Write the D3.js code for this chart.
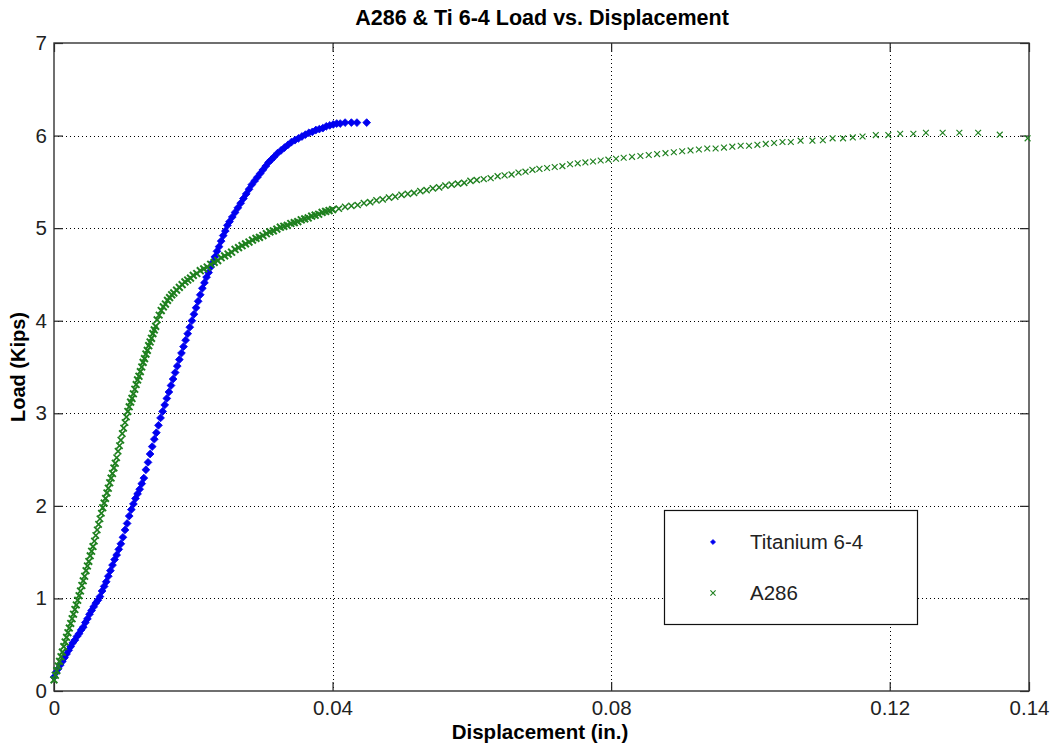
<!DOCTYPE html>
<html>
<head>
<meta charset="utf-8">
<script src="https://cdn.jsdelivr.net/npm/d3@7"></script>
<style>
  html, body { margin: 0; padding: 0; background: #fff; }
  svg { display: block; font-family: Arial, "Liberation Sans", sans-serif; }
</style>
</head>
<body>
<script>
// ---------------- DATA ----------------
const chartTitle = "A286 & Ti 6-4 Load vs. Displacement";
const xAxisTitle = "Displacement (in.)";
const yAxisTitle = "Load (Kips)";
const seriesNames = ["Titanium 6-4", "A286"];

const xTickValues = [0, 0.04, 0.08, 0.12, 0.14];
const xTickLabels = ["0", "0.04", "0.08", "0.12", "0.14"];
const yTickValues = [0, 1, 2, 3, 4, 5, 6, 7];
const yTickLabels = ["0", "1", "2", "3", "4", "5", "6", "7"];

// Titanium 6-4 : displacement (in.), load (kips)
const tiDisp = [
0.0000,0.0003,0.0006,0.0009,0.0012,0.0015,0.0018,0.0021,0.0024,0.0027,0.0030,0.0033,0.0036,0.0039,0.0042,0.0045,0.0048,0.0051,0.0054,0.0057,0.0060,0.0063,0.0066,
0.0069,0.0072,0.0075,0.0078,0.0081,0.0084,0.0087,0.0090,0.0093,0.0096,0.0099,0.0102,0.0105,0.0108,0.0111,0.0114,0.0117,0.0120,0.0123,0.0126,0.0129,0.0132,0.0135,0.0138,0.0141,0.0144,0.0147,0.0150,0.0153,
0.0156,0.0159,0.0162,0.0165,0.0168,0.0171,0.0174,0.0177,0.0180,0.0183,0.0186,0.0189,0.0192,0.0195,0.0198,0.0201,0.0204,0.0207,0.0210,0.0213,0.0216,0.0219,0.0222,0.0225,0.0228,0.0231,0.0234,0.0237,0.0240,0.0243,0.0246,0.0249,
0.0252,0.0256,0.0260,0.0264,0.0268,0.0272,0.0276,0.0280,0.0284,0.0288,0.0292,0.0296,0.0300,0.0304,0.0308,0.0312,0.0316,0.0321,0.0326,0.0331,0.0336,0.0341,0.0346,0.0351,0.0356,0.0361,0.0366,0.0371,0.0376,0.0381,0.0386,0.0391,0.0396,0.0401,0.0406,0.0411,0.0418,0.0427,0.0435,0.0449
];
const tiLoad = [
0.15,0.20,0.24,0.28,0.32,0.36,0.40,0.44,0.48,0.52,0.55,0.59,0.62,0.66,0.69,0.74,0.78,0.83,0.87,0.91,0.95,0.98,1.02,
1.08,1.13,1.18,1.24,1.30,1.36,1.42,1.47,1.53,1.59,1.66,1.74,1.81,1.89,1.96,2.02,2.08,2.13,2.18,2.24,2.30,2.39,2.47,2.56,2.64,2.72,2.79,2.87,2.95,
3.02,3.09,3.16,3.23,3.30,3.37,3.44,3.51,3.58,3.65,3.72,3.79,3.86,3.93,4.00,4.07,4.14,4.21,4.28,4.35,4.41,4.47,4.52,4.58,4.63,4.69,4.75,4.80,4.86,4.92,4.97,5.03,
5.07,5.12,5.17,5.22,5.27,5.32,5.37,5.42,5.47,5.51,5.55,5.59,5.63,5.67,5.71,5.74,5.77,5.81,5.84,5.87,5.90,5.93,5.95,5.97,5.99,6.01,6.03,6.04,6.06,6.07,6.08,6.10,6.11,6.12,6.13,6.13,6.14,6.14,6.14,6.14
];

// A286 : displacement (in.), load (kips)
const aDisp = [
0.0000,0.0002,0.0004,0.0006,0.0008,0.0010,0.0012,0.0014,0.0016,0.0018,0.0020,0.0022,0.0024,0.0026,0.0028,0.0030,0.0032,0.0034,0.0036,0.0038,0.0040,0.0042,0.0044,0.0046,0.0048,0.0050,0.0052,0.0054,0.0056,0.0058,0.0060,0.0062,0.0064,0.0066,0.0068,0.0070,0.0072,0.0074,0.0076,0.0078,0.0080,0.0082,0.0084,0.0086,0.0088,0.0090,0.0092,0.0094,0.0096,0.0098,0.0100,0.0102,0.0104,
0.0106,0.0108,0.0110,0.0112,0.0114,0.0116,0.0118,0.0120,0.0122,0.0124,0.0126,0.0128,0.0130,0.0132,0.0134,0.0136,0.0138,0.0140,0.0142,0.0144,0.0146,
0.0148,0.0151,0.0154,0.0157,0.0160,0.0163,0.0166,0.0169,0.0172,0.0176,0.0180,0.0184,0.0188,0.0192,0.0196,0.0200,0.0205,0.0210,0.0215,0.0220,0.0225,0.0230,0.0235,0.0240,0.0245,0.0250,0.0255,0.0260,0.0265,0.0270,0.0275,0.0280,0.0285,0.0290,0.0295,0.0300,0.0305,0.0310,0.0315,0.0320,0.0325,0.0330,0.0335,0.0340,0.0345,0.0350,0.0355,0.0360,0.0365,0.0370,0.0375,0.0380,0.0385,0.0390,0.0395,0.0400,
0.0409,0.0418,0.0427,0.0436,0.0445,0.0454,0.0463,0.0472,0.0481,0.0490,0.0499,0.0508,0.0517,0.0526,0.0535,0.0544,0.0553,0.0562,0.0571,0.0580,0.0589,0.0598,0.0607,0.0617,0.0627,0.0637,0.0647,0.0657,0.0667,0.0677,0.0687,0.0697,0.0708,0.0719,0.0730,0.0741,0.0752,0.0763,0.0774,0.0785,0.0796,0.0807,0.0818,0.0830,0.0842,0.0854,0.0866,0.0878,0.0890,0.0902,0.0914,0.0926,0.0938,0.0950,0.0962,0.0974,0.0986,0.0998,0.1010,0.1022,0.1034,0.1046,0.1058,
0.1072,0.1089,0.1104,0.1118,0.1133,0.1147,0.1161,0.1180,0.1198,0.1215,0.1234,0.1252,0.1276,0.1300,0.1327,0.1358,0.1398
];
const aLoad = [
0.12,0.17,0.22,0.27,0.32,0.37,0.42,0.48,0.53,0.58,0.63,0.68,0.73,0.78,0.83,0.88,0.93,0.98,1.03,1.08,1.14,1.19,1.24,1.30,1.35,1.40,1.46,1.51,1.56,1.62,1.68,1.74,1.80,1.86,1.92,1.98,2.03,2.08,2.14,2.19,2.25,2.30,2.35,2.41,2.46,2.52,2.59,2.65,2.71,2.78,2.84,2.90,2.96,
3.02,3.07,3.12,3.16,3.21,3.26,3.31,3.36,3.40,3.45,3.50,3.55,3.59,3.64,3.68,3.73,3.77,3.81,3.86,3.90,3.94,
4.01,4.06,4.11,4.15,4.18,4.22,4.25,4.28,4.30,4.33,4.36,4.39,4.42,4.44,4.46,4.49,4.51,4.54,4.56,4.58,4.61,4.63,4.65,4.68,4.70,4.72,4.74,4.77,4.79,4.81,4.83,4.85,4.87,4.89,4.90,4.92,4.94,4.96,4.97,4.99,5.01,5.02,5.03,5.05,5.06,5.07,5.09,5.10,5.11,5.13,5.14,5.15,5.17,5.18,5.19,5.20,
5.21,5.23,5.24,5.25,5.27,5.28,5.30,5.31,5.33,5.34,5.36,5.37,5.38,5.40,5.41,5.43,5.44,5.46,5.47,5.48,5.49,5.51,5.52,5.53,5.54,5.56,5.57,5.58,5.60,5.61,5.63,5.64,5.65,5.66,5.67,5.69,5.70,5.71,5.72,5.73,5.74,5.75,5.76,5.77,5.78,5.79,5.80,5.81,5.82,5.83,5.84,5.85,5.86,5.86,5.87,5.88,5.89,5.89,5.90,5.91,5.92,5.93,5.93,
5.945,5.945,5.95,5.97,5.97,5.98,5.99,6.005,6.005,6.02,6.02,6.03,6.03,6.03,6.03,6.01,5.97
];

// ---------------- DRAWING ----------------
const W = 1052, H = 747;
const m = { left: 54, right: 1029, top: 43, bottom: 691 };
const tiColor = "#0000f0";
const aColor = "#1f801f";

const svg = d3.select("body").append("svg").attr("width", W).attr("height", H);

const x = d3.scaleLinear().domain([0, 0.14]).range([m.left, m.right]);
const y = d3.scaleLinear().domain([0, 7]).range([m.bottom, m.top]);

// grid (dotted)
const grid = svg.append("g").attr("stroke", "#000").attr("stroke-width", 1).attr("stroke-dasharray", "1,3");
grid.selectAll("line.gx").data(xTickValues.filter(v => v > 0 && v < 0.14)).join("line")
  .attr("x1", d => Math.round(x(d)) + 0.5).attr("x2", d => Math.round(x(d)) + 0.5)
  .attr("y1", m.top).attr("y2", m.bottom);
grid.selectAll("line.gy").data(yTickValues.filter(v => v > 0 && v < 7)).join("line")
  .attr("y1", d => Math.round(y(d)) + 0.5).attr("y2", d => Math.round(y(d)) + 0.5)
  .attr("x1", m.left).attr("x2", m.right);

// axes
const tickFont = 20.5;
const gx = svg.append("g").attr("transform", `translate(0,${m.bottom})`)
  .call(d3.axisBottom(x).tickValues(xTickValues).tickFormat((d, i) => xTickLabels[i]).tickSizeInner(-9).tickSizeOuter(0).tickPadding(9));
const gy = svg.append("g").attr("transform", `translate(${m.left},0)`)
  .call(d3.axisLeft(y).tickValues(yTickValues).tickFormat((d, i) => yTickLabels[i]).tickSizeInner(-9).tickSizeOuter(0).tickPadding(7));
const gt = svg.append("g").attr("transform", `translate(0,${m.top})`)
  .call(d3.axisTop(x).tickValues(xTickValues).tickFormat("").tickSizeInner(-9).tickSizeOuter(0));
const gr = svg.append("g").attr("transform", `translate(${m.right},0)`)
  .call(d3.axisRight(y).tickValues(yTickValues).tickFormat("").tickSizeInner(-9).tickSizeOuter(0));
[gx, gy, gt, gr].forEach(g => {
  g.select(".domain").remove();
  g.selectAll(".tick line").attr("stroke", "#222").attr("stroke-width", 1.2);
  g.selectAll("text").attr("font-size", tickFont).attr("fill", "#222")
    .attr("font-family", "Arial, 'Liberation Sans', sans-serif");
});

// box
svg.append("rect").attr("x", m.left).attr("y", m.top)
  .attr("width", m.right - m.left).attr("height", m.bottom - m.top)
  .attr("fill", "none").attr("stroke", "#333").attr("stroke-width", 1.4);

// series
const tiPts = tiDisp.map((d, i) => [d, tiLoad[i]]);
const aPts = aDisp.map((d, i) => [d, aLoad[i]]);

const diamond = r => `M0,${-r}L${r},0L0,${r}L${-r},0Z`;
const cross = r => `M${-r},${-r}L${r},${r}M${-r},${r}L${r},${-r}`;

// pixel gap to the nearest neighbour: closely packed markers overplot into a heavier band
function pixGap(pts, i) {
  const p = pts[i], q = pts[Math.min(i + 1, pts.length - 1)], r = pts[Math.max(i - 1, 0)];
  const dq = Math.hypot(x(q[0]) - x(p[0]), y(q[1]) - y(p[1])) || 99;
  const dr = Math.hypot(x(r[0]) - x(p[0]), y(r[1]) - y(p[1])) || 99;
  return Math.min(dq, dr);
}
const weight = d3.scaleLinear().domain([4.5, 7.5]).range([2, 1.15]).clamp(true);
const armLen = d3.scaleLinear().domain([4.5, 7.5]).range([3.4, 2.9]).clamp(true);

svg.append("g").selectAll("path").data(tiPts).join("path")
  .attr("transform", d => `translate(${x(d[0])},${y(d[1])})`)
  .attr("d", diamond(3.9)).attr("fill", tiColor).attr("stroke", tiColor).attr("stroke-width", 0.8);

svg.append("g").selectAll("path").data(aPts).join("path")
  .attr("transform", d => `translate(${x(d[0])},${y(d[1])})`)
  .attr("d", (d, i) => cross(armLen(pixGap(aPts, i))))
  .attr("fill", "none").attr("stroke", aColor)
  .attr("stroke-width", (d, i) => weight(pixGap(aPts, i)));

// title & axis titles
svg.append("text").attr("x", 542).attr("y", 25).attr("text-anchor", "middle")
  .attr("font-size", 21.5).attr("font-weight", "bold").attr("fill", "#000").text(chartTitle);
svg.append("text").attr("x", 540).attr("y", 739).attr("text-anchor", "middle")
  .attr("font-size", 20.5).attr("font-weight", "bold").attr("fill", "#000").text(xAxisTitle);
svg.append("text").attr("transform", `translate(25,${(m.top + m.bottom) / 2}) rotate(-90)`)
  .attr("text-anchor", "middle").attr("font-size", 20).attr("font-weight", "bold").attr("fill", "#000").text(yAxisTitle);

// legend
const lg = svg.append("g");
lg.append("rect").attr("x", 664.5).attr("y", 510.5).attr("width", 253).attr("height", 114)
  .attr("fill", "#fff").attr("stroke", "#111").attr("stroke-width", 1.2);
const legendRows = [
  { name: seriesNames[0], y: 542, kind: "ti" },
  { name: seriesNames[1], y: 593, kind: "a" }
];
legendRows.forEach(r => {
  if (r.kind === "ti") {
    lg.append("path").attr("transform", `translate(713,${r.y})`).attr("d", diamond(2.6))
      .attr("fill", tiColor).attr("stroke", tiColor).attr("stroke-width", 0.6);
  } else {
    lg.append("path").attr("transform", `translate(713,${r.y})`).attr("d", cross(2.6))
      .attr("fill", "none").attr("stroke", aColor).attr("stroke-width", 1.1);
  }
  lg.append("text").attr("x", 750).attr("y", r.y).attr("dy", "0.35em")
    .attr("font-size", 20.5).attr("fill", "#222").text(r.name);
});
</script>
</body>
</html>
